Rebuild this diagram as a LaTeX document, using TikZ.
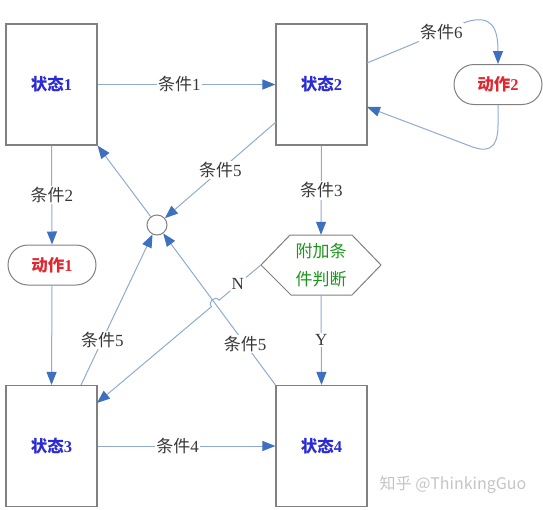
\documentclass[tikz,border=0pt]{standalone}
\usepackage{fontspec}
\setmainfont{Liberation Serif}
\newfontfamily\cjk{Noto Sans CJK SC}
\usetikzlibrary{arrows.meta,calc,shapes.misc}
\definecolor{boxgray}{HTML}{808080}
\definecolor{lineblue}{HTML}{90AAD2}
\definecolor{tipblue}{HTML}{3F6FBF}
\definecolor{stblue}{HTML}{2B2BD6}
\definecolor{actred}{HTML}{E02830}
\definecolor{condgreen}{HTML}{1E961E}
\definecolor{lbltext}{HTML}{383838}
\definecolor{wmgray}{HTML}{C4C4C4}
\begin{document}
\begin{tikzpicture}[x=1pt,y=-1pt,
  statebox/.style={draw=boxgray,line width=1.2pt,fill=white,minimum width=91pt,minimum height=121pt,inner sep=0pt,font=\fontsize{16.5}{18}\selectfont\bfseries,text=stblue},
  actbox/.style={rounded rectangle,draw=boxgray,line width=1pt,fill=white,minimum width=88pt,minimum height=40pt,inner sep=0pt,font=\fontsize{16.5}{18}\selectfont\bfseries,text=actred},
  conn/.style={draw=lineblue,line width=1pt,-{Triangle[length=13pt,width=10pt,color=tipblue]}},
  lbl/.style={fill=white,inner sep=1.5pt,text=lbltext,font=\fontsize{17}{19}\selectfont}]
\useasboundingbox (0,0) rectangle (543,509);
% states
\node[statebox] (s1) at (51.5,84.5) {{\cjk 状态}1};
\node[statebox] (s2) at (321.5,84.5) {{\cjk 状态}2};
\node[statebox] (s3) at (51.5,446) {{\cjk 状态}3};
\node[statebox] (s4) at (321.5,446) {{\cjk 状态}4};
% actions
\node[actbox] (a1) at (52,265) {{\cjk 动作}1};
\node[actbox] (a2) at (498,84.5) {{\cjk 动作}2};
% junction circle
\node[circle,draw=boxgray,line width=1pt,fill=white,minimum size=20pt,inner sep=0pt] (c) at (157,225) {};
% decision hexagon
\draw[boxgray,line width=1pt,fill=white] (261,265) -- (290,235) -- (352,235) -- (381,265) -- (352,295) -- (291,295) -- cycle;
\node[minimum width=120pt,minimum height=60pt,inner sep=0pt,align=center,text=condgreen,font=\fontsize{17}{28}\selectfont] (hex) at (321,265) {\cjk 附加条\\\cjk 件判断};
% connectors
\draw[conn] (s1) -- node[lbl,pos=.46]{{\cjk 条件}1} (s2);
\draw[conn] (s1.south) -- node[lbl]{{\cjk 条件}2} (a1.north);
\draw[conn] (a1.south) -- (s3.north);
\draw[conn] (s3.east) -- node[lbl,pos=.45]{{\cjk 条件}4} (s4.west);
\draw[conn] (s2.south) -- node[lbl]{{\cjk 条件}3} (hex.north);
\draw[conn] (hex.south) -- node[lbl]{Y} (s4.north);
\coordinate (c5a) at (276,122);
\draw[conn] (c5a) -- node[lbl]{{\cjk 条件}5} (c);
\draw[conn] (c) -- (s1.south east);
\coordinate (c5b) at (81,385);
\draw[conn] (c5b) -- node[lbl,pos=.3]{{\cjk 条件}5} (c);
\draw[conn] (s4.north west) -- node[lbl,pos=.27]{{\cjk 条件}5} (c);
% N branch with line jump
\coordinate (n3) at (97,403);
\coordinate (J) at (215.3,303.4);
\coordinate (JA) at ($(J)!5pt!(hex.west)$);
\coordinate (JB) at ($(J)!5pt!(n3)$);
\draw[conn] (hex.west) -- node[lbl,pos=.55]{N} (JA) .. controls ($(JA)+(-4,-5)$) and ($(JB)+(-4,-5)$) .. (JB) -- (n3);
% condition 6 loop
\coordinate (c6s) at (367,63);
\coordinate (c6e) at (466,22);
\draw[conn] (c6s) -- node[lbl,pos=.75]{{\cjk 条件}6} (c6e) .. controls (492,14) and (498,28) .. (a2.north);
\coordinate (c6r) at (367,107);
\coordinate (c6b) at (498,125);
\coordinate (c6t) at (470,146);
\draw[conn] (a2.south) -- (c6b) .. controls (498,152) and (485,152) .. (c6t) -- (c6r);
% watermark
\node[text=wmgray,font=\cjk\fontsize{16}{18}\selectfont,inner sep=0pt] (wm) at (453,485) {知乎 @ThinkingGuo};
\end{tikzpicture}
\end{document}
